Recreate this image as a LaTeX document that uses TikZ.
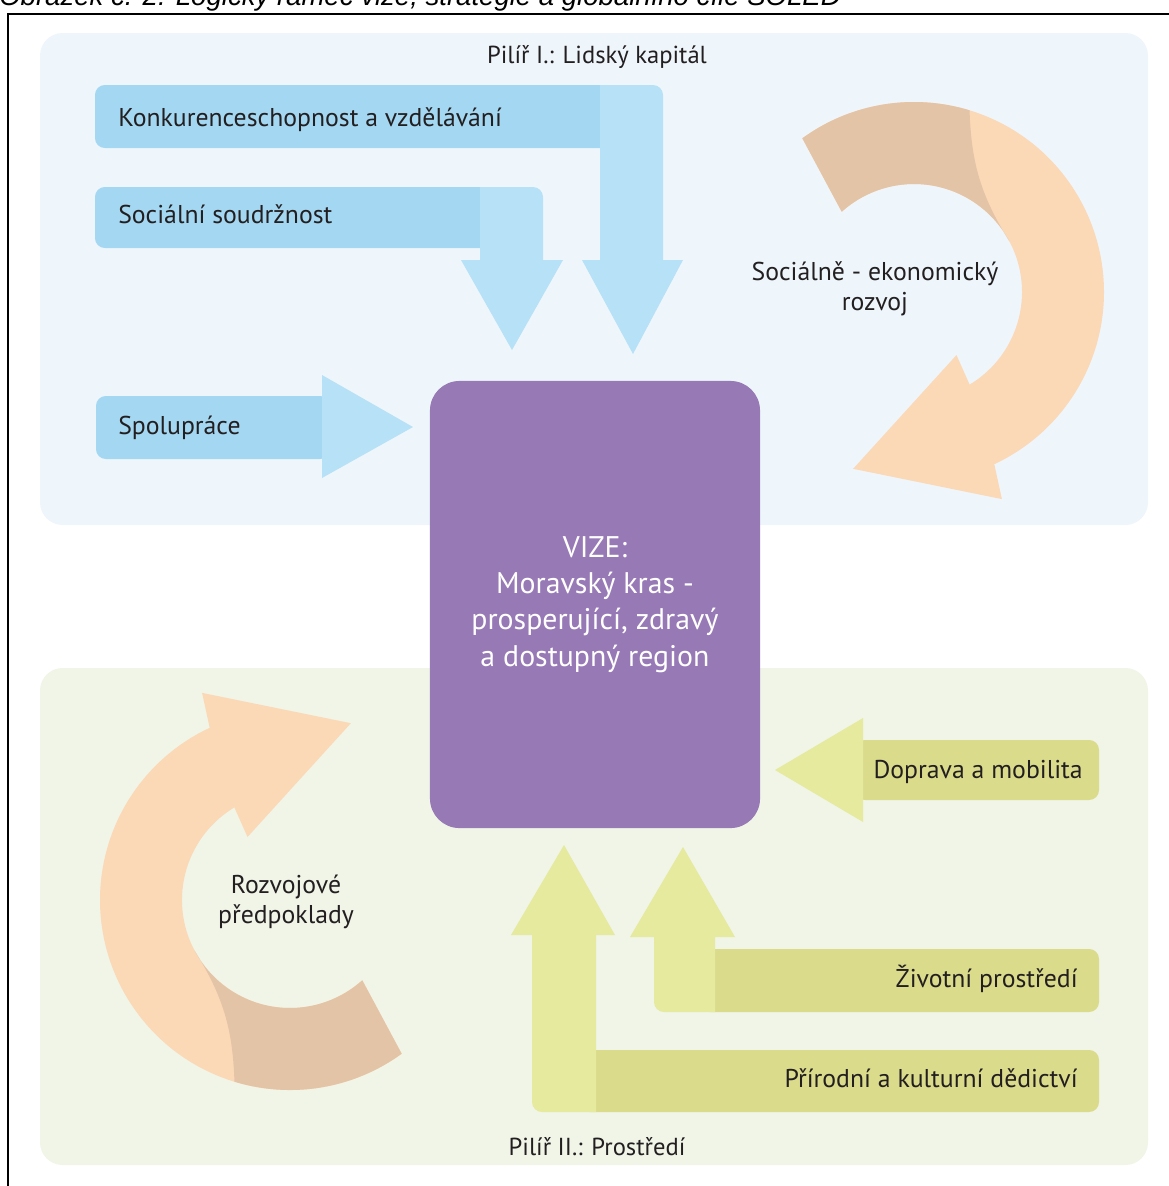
\documentclass[tikz,border=0pt]{standalone}
\usepackage{fontspec}
\setmainfont{PT Sans}
\newfontfamily\captionfont{Liberation Sans}
\usepackage{tikz}
\usetikzlibrary{calc}

\definecolor{panelblue}{RGB}{238,246,252}
\definecolor{panelgreen}{RGB}{240,245,231}
\definecolor{barblue}{RGB}{163,215,242}
\definecolor{headblue}{RGB}{183,225,246}
\definecolor{bargreen}{RGB}{218,219,139}
\definecolor{headgreen}{RGB}{230,234,158}
\definecolor{vizepurple}{RGB}{151,121,182}
\definecolor{peach}{RGB}{251,217,183}
\definecolor{peachdark}{RGB}{228,196,167}
\definecolor{inktext}{RGB}{35,31,32}

\begin{document}
\begin{tikzpicture}[
		x=0.025cm, y=-0.025cm,
		every node/.style={inner sep=0pt, text=inktext},
		lbl/.style={font=\fontsize{18.3}{22}\selectfont},
		ringlbl/.style={align=center, font=\fontsize{18.3}{21.3}\selectfont},
		pilir/.style={font=\fontsize{17.5}{20}\selectfont},
		panel/.style={fill=#1, rounded corners=16pt},
		blockbar/.style={fill=#1, rounded corners=7pt},
		vizebox/.style={
			rectangle, rounded corners=21pt, fill=vizepurple,
			minimum width=8.25cm, minimum height=11.175cm,
			align=center, text=white,
			font=\fontsize{21.2}{25.8}\selectfont
		},
		swirl/.pic={
			% ribbon
			\fill[peach, yscale=-1] (-54:190) arc[start angle=-54, end angle=-245, radius=190]
			-- (113:225) -- (71:187) -- (124:76) -- (121:108)
			arc[start angle=-239, end angle=-48, radius=108] -- cycle;
			% tail, back side
			\fill[peachdark, yscale=-1] (-54:190) arc[start angle=-54, end angle=-107, radius=190]
			to[bend left=15] (-152:108)
			arc[start angle=-152, end angle=-48, radius=108] -- cycle;
		}
		]
		
		\clip (0,0) rectangle (1169,1186);
		
		% Caption and frame
		\node[anchor=base west, text=black,
		font=\captionfont\itshape\fontsize{19.6}{22}\selectfont] (caption) at (-1,5)
		{Obrázek č. 2: Logický rámec vize, strategie a globálního cíle SOLED};
		\draw[line width=1.5pt] (8,1200) |- (1180,14);
		
		% Pillar panels
		\fill[panel=panelblue]  (40,33)  rectangle (1148,525);
		\fill[panel=panelgreen] (40,668) rectangle (1148,1165);
		\node[pilir, anchor=base] (pilir1) at (597,63)   {Pilíř I.: Lidský kapitál};
		\node[pilir, anchor=base] (pilir2) at (597,1155) {Pilíř II.: Prostředí};
		
		% Pillar I arrows
		\fill[blockbar=barblue] (95,85) rectangle (620,148);
		\fill[headblue] (600,275) |- (653,85) arc[start angle=-90, end angle=0, radius=10] -- (663,275) -- cycle;
		\fill[headblue] (582,260) -- (683,260) -- (633,354) -- cycle;
		
		\fill[blockbar=barblue] (95,187) rectangle (500,248);
		\fill[headblue] (480,275) |- (533,187) arc[start angle=-90, end angle=0, radius=10] -- (543,275) -- cycle;
		\fill[headblue] (461,260) -- (563,260) -- (512,350) -- cycle;
		
		\fill[blockbar=barblue] (96,396) rectangle (330,459);
		\fill[headblue] (322,375) -- (322,478) -- (413,427) -- cycle;
		
		% Pillar II arrows
		\fill[blockbar=bargreen] (855,740) rectangle (1099,800);
		\fill[headgreen] (863,718) -- (863,822) -- (775,770) -- cycle;
		
		\fill[blockbar=bargreen] (700,949) rectangle (1099,1012);
		\fill[headgreen] (654,925) -- (654,1002) arc[start angle=180, end angle=90, radius=10] -- (715,1012) -- (715,925) -- cycle;
		\fill[headgreen] (630,937) -- (735,937) -- (683,847) -- cycle;
		
		\fill[blockbar=bargreen] (580,1050) rectangle (1099,1112);
		\fill[headgreen] (532,925) -- (532,1102) arc[start angle=180, end angle=90, radius=10] -- (596,1112) -- (596,925) -- cycle;
		\fill[headgreen] (511,935) -- (615,935) -- (564,845) -- cycle;
		
		% Cycles
		\pic[rotate=180] at (914,292) {swirl};
		\pic at (290,900) {swirl};
		
		% Vision
		\node[vizebox] (vize) at (595,604.5) {VIZE:\\Moravský kras -\\prosperující, zdravý\\a dostupný region};
		
		% Labels
		\node[lbl, anchor=base west] (konk) at (118,126)  {Konkurenceschopnost a vzdělávání};
		\node[lbl, anchor=base west] (soc)  at (118,223)  {Sociální soudržnost};
		\node[lbl, anchor=base west] (spol) at (118,434)  {Spolupráce};
		\node[lbl, anchor=base east] (dopr) at (1083,778) {Doprava a mobilita};
		\node[lbl, anchor=base east] (ziv)  at (1078,987) {Životní prostředí};
		\node[lbl, anchor=base east] (prir) at (1078,1087){Přírodní a kulturní dědictví};
		\node[ringlbl] (socek) at (875,289) {Sociálně - ekonomický\\rozvoj};
		\node[ringlbl] (rozv)  at (286,902) {Rozvojové\\předpoklady};
		
	\end{tikzpicture}
\end{document}
